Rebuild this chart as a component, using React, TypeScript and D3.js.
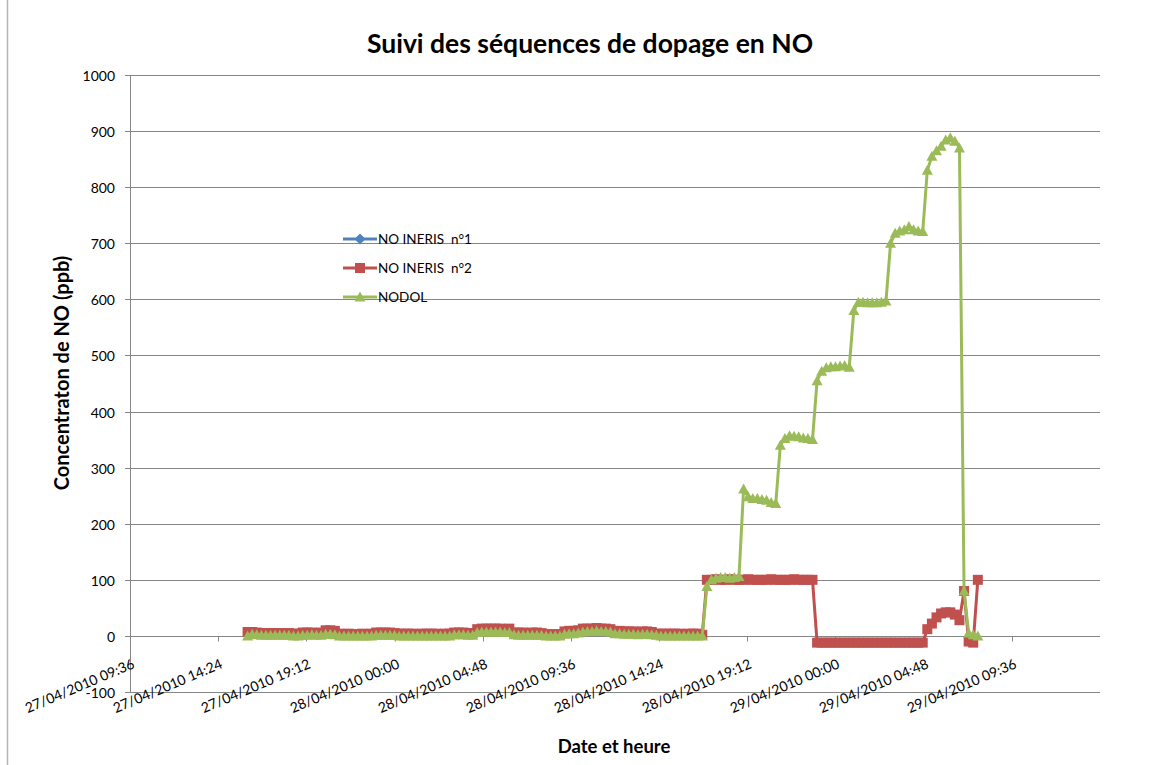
import { useRef, useEffect } from 'react';
import * as d3 from 'd3';

// NO readings, logged every 15 minutes from the first reading on
const firstReading = '27/04/2010 16:00';
const stepMinutes = 15;

// NO INERIS n°1 : no values plotted
const ineris1: number[] = [];

// NO INERIS n°2 (ppb)
const ineris2 = [
  7, 7, 6, 5, 5, 5, 5, 5, 5, 5, 4, 4, 6, 6, 6, 5, 6, 10, 10, 9,
  4, 3, 4, 3, 3, 4, 3, 4, 6, 6, 6, 6, 5, 4, 4, 4, 4, 3, 4, 4,
  4, 4, 3, 4, 4, 6, 6, 6, 5, 5, 12, 13, 13, 13, 13, 13, 12, 13, 6, 6,
  6, 5, 6, 6, 5, 3, 3, 3, 3, 8, 9, 9, 10, 13, 13, 13, 14, 13, 13, 12,
  8, 9, 8, 8, 8, 7, 8, 8, 7, 4, 4, 4, 4, 4, 4, 3, 4, 4, 4, 2,
  100, 100, 101, 100, 100, 101, 100, 100, 100, 101, 100, 100, 100, 100, 101, 100, 100, 100, 100, 101,
  100, 100, 100, 100, -12, -12, -12, -12, -12, -12, -12, -12, -12, -12, -12, -12, -12, -12, -12, -12,
  -12, -12, -12, -12, -12, -12, -12, -12, 12, 22, 33, 40, 42, 42, 38, 28, 80, -10, -12, 100,
];

// NODOL (ppb)
const nodol = [
  0, 3, 2, 1, 1, 1, 1, 1, 1, 1, 0, 0, 1, 1, 2, 1, 1, 3, 3, 2,
  0, 0, 0, 0, 0, 0, 0, 0, 1, 1, 1, 1, 1, 0, 0, 0, 0, 0, 0, 0,
  0, 0, 0, 0, 0, 2, 2, 2, 1, 1, 6, 7, 7, 7, 7, 7, 6, 6, 2, 1,
  1, 1, 1, 1, 1, 0, 0, 0, 0, 3, 4, 4, 5, 7, 8, 8, 9, 8, 8, 7,
  4, 4, 3, 3, 3, 2, 3, 3, 2, 1, 0, 0, 0, 0, 0, 0, 0, 0, 0, 0,
  88, 100, 103, 104, 104, 103, 104, 106, 262, 248, 245, 245, 243, 242, 238, 236, 340, 352, 357, 356,
  355, 353, 352, 350, 455, 472, 478, 480, 480, 481, 482, 479, 580, 595, 595, 594, 594, 594, 595, 597,
  700, 718, 722, 724, 730, 724, 722, 721, 830, 855, 865, 873, 884, 888, 882, 870, 80, 5, 2, 0,
];

const xTickLabels = [
  '27/04/2010 09:36', '27/04/2010 14:24', '27/04/2010 19:12', '28/04/2010 00:00',
  '28/04/2010 04:48', '28/04/2010 09:36', '28/04/2010 14:24', '28/04/2010 19:12',
  '29/04/2010 00:00', '29/04/2010 04:48', '29/04/2010 09:36',
];
const xAxisEnd = '29/04/2010 14:24';
const yTicks = [-100, 0, 100, 200, 300, 400, 500, 600, 700, 800, 900, 1000];

const seriesNames = ['NO INERIS  n°1', 'NO INERIS  n°2', 'NODOL'];
const seriesColors = ['#4F81BD', '#C0504D', '#9BBB59'];

const parse = d3.timeParse('%d/%m/%Y %H:%M');

function markerPath(kind: string) {
  if (kind === 'diamond') return 'M0,-5.5L5.5,0L0,5.5L-5.5,0Z';
  if (kind === 'square') return 'M-5,-5H5V5H-5Z';
  return 'M0,-5.5L5.5,4.5L-5.5,4.5Z';
}

export default function App() {
  const svgRef = useRef<SVGSVGElement | null>(null);

  useEffect(() => {
    if (!svgRef.current) return;
    d3.select(svgRef.current).selectAll('*').remove();

    const width = 1164;
    const height = 765;
    const margin = { top: 75, right: 64, bottom: 73, left: 130 };
    const innerWidth = width - margin.left - margin.right;
    const innerHeight = height - margin.top - margin.bottom;
    const font = 'Lato, "Open Sans", sans-serif';
    const gridColor = '#868686';

    const tickDates = xTickLabels.map(s => parse(s) as Date);
    const start = parse(firstReading) as Date;

    const xScale = d3.scaleTime()
      .domain([tickDates[0], parse(xAxisEnd) as Date])
      .range([0, innerWidth]);

    const yScale = d3.scaleLinear()
      .domain([-100, 1000])
      .range([innerHeight, 0]);

    const svg = d3.select(svgRef.current);

    // outer chart border (left edge)
    svg.append('line')
      .attr('x1', 7.5).attr('x2', 7.5)
      .attr('y1', 0).attr('y2', height)
      .attr('stroke', '#b5b5b5')
      .attr('stroke-width', 1.5);

    const g = svg.append('g')
      .attr('transform', `translate(${margin.left},${margin.top})`);

    // gridlines
    g.selectAll('line.grid')
      .data(yTicks)
      .enter()
      .append('line')
      .attr('x1', 0)
      .attr('x2', innerWidth)
      .attr('y1', d => Math.round(yScale(d)) + 0.5)
      .attr('y2', d => Math.round(yScale(d)) + 0.5)
      .attr('stroke', gridColor)
      .attr('stroke-width', 1);

    // y axis
    g.append('line')
      .attr('x1', 0.5).attr('x2', 0.5)
      .attr('y1', 0).attr('y2', innerHeight)
      .attr('stroke', gridColor);

    yTicks.forEach(t => {
      const y = Math.round(yScale(t)) + 0.5;
      g.append('line')
        .attr('x1', -5).attr('x2', 0)
        .attr('y1', y).attr('y2', y)
        .attr('stroke', gridColor);
      g.append('text')
        .attr('x', -15)
        .attr('y', y + 5)
        .attr('text-anchor', 'end')
        .style('font-family', font)
        .style('font-size', '14px')
        .attr('fill', '#000')
        .text(String(t));
    });

    // x axis crosses at 0
    const y0 = Math.round(yScale(0)) + 0.5;
    tickDates.forEach((d, i) => {
      const x = Math.round(xScale(d)) + 0.5;
      if (i > 0) {
        g.append('line')
          .attr('x1', x).attr('x2', x)
          .attr('y1', y0).attr('y2', y0 + 5)
          .attr('stroke', gridColor);
      }
      g.append('text')
        .attr('text-anchor', 'end')
        .attr('transform', `translate(${x + 5},${y0 + 31}) rotate(-23)`)
        .style('font-family', font)
        .style('font-size', '14px')
        .attr('fill', '#000')
        .text(xTickLabels[i]);
    });

    // series
    const allSeries = [ineris1, ineris2, nodol];
    const markers = ['diamond', 'square', 'triangle'];
    const line = d3.line<number>()
      .x((_, i) => xScale(d3.timeMinute.offset(start, i * stepMinutes)))
      .y(d => yScale(d));

    allSeries.forEach((values, s) => {
      if (!values.length) return;
      g.append('path')
        .datum(values)
        .attr('d', line)
        .attr('fill', 'none')
        .attr('stroke', seriesColors[s])
        .attr('stroke-width', 3)
        .attr('stroke-linejoin', 'round');
      g.selectAll(`path.m${s}`)
        .data(values)
        .enter()
        .append('path')
        .attr('class', `m${s}`)
        .attr('d', markerPath(markers[s]))
        .attr('transform', (d, i) =>
          `translate(${xScale(d3.timeMinute.offset(start, i * stepMinutes))},${yScale(d)})`)
        .attr('fill', seriesColors[s]);
    });

    // legend
    const legend = svg.append('g').attr('transform', 'translate(343, 239)');
    seriesNames.forEach((name, i) => {
      const row = legend.append('g').attr('transform', `translate(0, ${i * 29})`);
      row.append('line')
        .attr('x1', 0).attr('x2', 34)
        .attr('stroke', seriesColors[i])
        .attr('stroke-width', 3);
      row.append('path')
        .attr('d', markerPath(markers[i]))
        .attr('transform', 'translate(17,0)')
        .attr('fill', seriesColors[i]);
      row.append('text')
        .attr('x', 35)
        .attr('y', 5)
        .style('font-family', font)
        .style('font-size', '13.5px')
        .style('white-space', 'pre')
        .attr('fill', '#000')
        .text(name);
    });

    // titles
    svg.append('text')
      .attr('x', 590)
      .attr('y', 53)
      .attr('text-anchor', 'middle')
      .style('font-family', font)
      .style('font-size', '26.5px')
      .style('font-weight', 'bold')
      .text('Suivi des séquences de dopage en NO');

    svg.append('text')
      .attr('transform', 'translate(69, 373) rotate(-90)')
      .attr('text-anchor', 'middle')
      .style('font-family', font)
      .style('font-size', '20px')
      .style('font-weight', 'bold')
      .text('Concentraton de NO (ppb)');

    svg.append('text')
      .attr('x', 614)
      .attr('y', 753)
      .attr('text-anchor', 'middle')
      .style('font-family', font)
      .style('font-size', '18.5px')
      .style('font-weight', 'bold')
      .text('Date et heure');
  }, []);

  return (
    <div style={{ position: 'absolute', left: 0, top: 0 }}>
      <svg ref={svgRef} width={1164} height={765} style={{ display: 'block', background: '#fff' }} />
    </div>
  );
}
